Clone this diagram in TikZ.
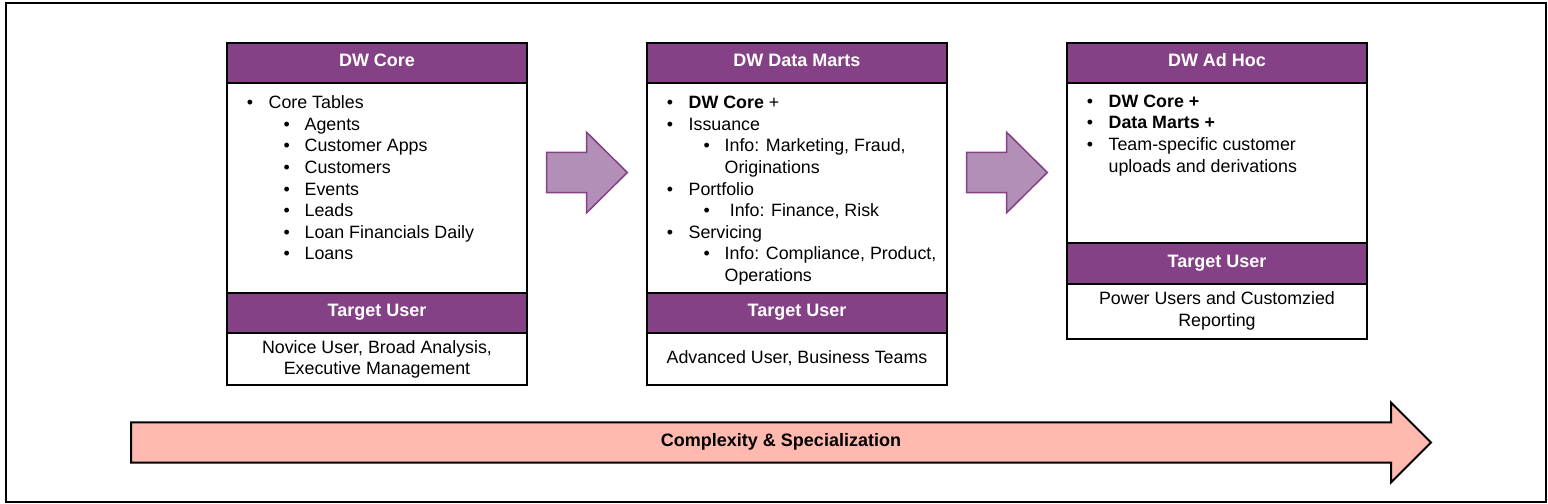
\documentclass[tikz,border=0pt]{standalone}
\usepackage{fontspec}
\setmainfont{Liberation Sans}
\usepackage{tikz}
\definecolor{dwpurple}{RGB}{132,65,134}
\definecolor{steplilac}{RGB}{178,143,182}
\definecolor{trendpink}{RGB}{255,185,174}

\begin{document}
\begin{tikzpicture}[x=0.6pt, y=-0.6pt,
    frame/.style={draw=black, line width=1.2pt},
    hdr/.style={fill=dwpurple, draw=black, line width=1.2pt},
    hdrtext/.style={anchor=base, text=white, font=\fontsize{10.8}{13}\selectfont\bfseries, inner sep=0pt},
    item/.style={anchor=base west, font=\fontsize{10.7}{13}\selectfont, inner sep=0pt},
    dot/.style={anchor=base, font=\fontsize{10.7}{13}\selectfont, inner sep=0pt},
    usertext/.style={anchor=base, font=\fontsize{10.7}{13}\selectfont, inner sep=0pt, align=center},
    steparrow/.style={fill=steplilac, draw=dwpurple, line width=0.9pt, line join=miter},
    trendarrow/.style={fill=trendpink, draw=black, line width=1.2pt, line join=miter}]
    \useasboundingbox (0,0) rectangle (1548,504);
    % outer frame
    \draw[line width=1.2pt] (6,3.5) rectangle (1545.5,502);

    % DW Core
    \draw[frame] (227,43) rectangle (527,385);
    \draw[hdr] (227,43) rectangle (527,83);
    \draw[hdr] (227,293) rectangle (527,333);
    \node[hdrtext] (coreHead) at (377,66.7) {DW Core};
    \node[hdrtext] (coreUser) at (377,316.7) {Target User};
    \node[dot] at (250,108.7) {\textbullet};
    \node[item] (coreTables) at (268.3,108.7) {Core Tables};
    \node[dot] at (286.7,130.3) {\textbullet};
    \node[item] (coreAgents) at (304.3,130.3) {Agents};
    \node[dot] at (286.7,152) {\textbullet};
    \node[item] (coreApps) at (304.3,152) {Customer Apps};
    \node[dot] at (286.7,173.6) {\textbullet};
    \node[item] (coreCust) at (304.3,173.6) {Customers};
    \node[dot] at (286.7,195.2) {\textbullet};
    \node[item] (coreEvents) at (304.3,195.2) {Events};
    \node[dot] at (286.7,216.8) {\textbullet};
    \node[item] (coreLeads) at (304.3,216.8) {Leads};
    \node[dot] at (286.7,238.4) {\textbullet};
    \node[item] (coreDaily) at (304.3,238.4) {Loan Financials Daily};
    \node[dot] at (286.7,260) {\textbullet};
    \node[item] (coreLoans) at (304.3,260) {Loans};
    \node[usertext] (coreWho) at (377,353.3) {Novice User, Broad Analysis,};
    \node[usertext] (coreWhoB) at (377,374.3) {Executive Management};

    % DW Data Marts
    \draw[frame] (647,43) rectangle (947,385);
    \draw[hdr] (647,43) rectangle (947,83);
    \draw[hdr] (647,293) rectangle (947,333);
    \node[hdrtext] (martHead) at (797,66.7) {DW Data Marts};
    \node[hdrtext] (martUser) at (797,316.7) {Target User};
    \node[dot] at (670,108.7) {\textbullet};
    \node[item] (martCore) at (688.3,108.7) {\textbf{DW Core} +};
    \node[dot] at (670,130.3) {\textbullet};
    \node[item] (martIssue) at (688.3,130.3) {Issuance};
    \node[dot] at (706.7,152) {\textbullet};
    \node[item] (martIssueA) at (724.3,152) {Info: Marketing, Fraud,};
    \node[item] (martIssueB) at (724.3,173.6) {Originations};
    \node[dot] at (670,195.2) {\textbullet};
    \node[item] (martPort) at (688.3,195.2) {Portfolio};
    \node[dot] at (706.7,216.8) {\textbullet};
    \node[item] (martPortA) at (729.5,216.8) {Info: Finance, Risk};
    \node[dot] at (670,238.4) {\textbullet};
    \node[item] (martServ) at (688.3,238.4) {Servicing};
    \node[dot] at (706.7,260) {\textbullet};
    \node[item] (martServA) at (724.3,260) {Info: Compliance, Product,};
    \node[item] (martServB) at (724.3,281.6) {Operations};
    \node[usertext] (martWho) at (797,363.3) {Advanced User, Business Teams};

    % DW Ad Hoc
    \draw[frame] (1067,43) rectangle (1367,339);
    \draw[hdr] (1067,43) rectangle (1367,83.3);
    \draw[hdr] (1067,243.3) rectangle (1367,284.3);
    \node[hdrtext] (hocHead) at (1217,66.7) {DW Ad Hoc};
    \node[hdrtext] (hocUser) at (1217,267.3) {Target User};
    \node[dot] at (1090,107.3) {\textbullet};
    \node[item] (hocCore) at (1108.3,107.3) {\textbf{DW Core +}};
    \node[dot] at (1090,128.9) {\textbullet};
    \node[item] (hocMarts) at (1108.3,128.9) {\textbf{Data Marts +}};
    \node[dot] at (1090,150.5) {\textbullet};
    \node[item] (hocTeam) at (1108.3,150.5) {Team-specific customer};
    \node[item] (hocTeamB) at (1108.3,172.1) {uploads and derivations};
    \node[usertext] (hocWho) at (1217,305) {Power Users and Customzied};
    \node[usertext] (hocWhoB) at (1217,326.7) {Reporting};

    % step arrows
    \draw[steparrow] (546.5,152.3) -- (586.7,152.3) -- (586.7,132.3) -- (627.3,172.5)
        -- (586.7,212.7) -- (586.7,192.7) -- (546.5,192.7) -- cycle;
    \draw[steparrow, shift={(420,0)}] (546.5,152.3) -- (586.7,152.3) -- (586.7,132.3) -- (627.3,172.5)
        -- (586.7,212.7) -- (586.7,192.7) -- (546.5,192.7) -- cycle;

    % complexity arrow
    \draw[trendarrow] (131,422.3) -- (1391,422.3) -- (1391,402.5) -- (1431,442.5)
        -- (1391,482.5) -- (1391,462.7) -- (131,462.7) -- cycle;
    \node[usertext, font=\fontsize{10.8}{13}\selectfont\bfseries] (trend) at (781,446.3) {Complexity \& Specialization};
\end{tikzpicture}
\end{document}
